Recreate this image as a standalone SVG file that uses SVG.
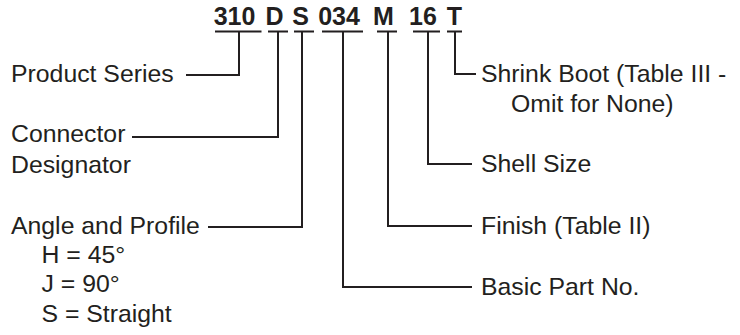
<svg xmlns="http://www.w3.org/2000/svg" width="740" height="335" viewBox="0 0 740 335">
  <style>
    text { font-family: "Liberation Sans", Arial, sans-serif; fill: #231f20; }
    .lbl { font-size: 24.8px; }
    .ttl { font-size: 25px; font-weight: bold; }
    .ln { fill: none; stroke: #231f20; stroke-width: 2; stroke-linecap: butt; stroke-linejoin: miter; }
  </style>
  <rect width="740" height="335" fill="#ffffff"/>

  <g id="title">
    <text class="ttl" y="25" text-anchor="middle">
      <tspan x="238">310</tspan>
      <tspan x="278">D</tspan>
      <tspan x="304">S</tspan>
      <tspan x="342.5">034</tspan>
      <tspan x="387">M</tspan>
      <tspan x="426.5">16</tspan>
      <tspan x="454.5">T</tspan>
    </text>
  </g>

  <g id="connectors">
    <path class="ln" d="M215 31.5H261.5 M268 31.5H288 M294 31.5H314 M322 31.5H363 M377 31.5H397 M413 31.5H440 M447 31.5H462"/>
    <path class="ln" d="M239 31.5V75H186"/>
    <path class="ln" d="M278 31.5V137H132"/>
    <path class="ln" d="M302 31.5V227H208"/>
    <path class="ln" d="M343 31.5V287H472"/>
    <path class="ln" d="M388 31.5V226H472"/>
    <path class="ln" d="M428 31.5V164H472"/>
    <path class="ln" d="M455 31.5V74H476"/>
  </g>

  <g id="product-series">
    <text class="lbl" x="11" y="82">Product Series</text>
  </g>
  <g id="connector-designator">
    <text class="lbl" x="11" y="142">Connector</text>
    <text class="lbl" x="11" y="172.5">Designator</text>
  </g>
  <g id="angle-profile">
    <text class="lbl" x="11" y="233.5">Angle and Profile</text>
    <text class="lbl" x="41.5" y="263">H = 45°</text>
    <text class="lbl" x="41.5" y="292">J = 90°</text>
    <text class="lbl" x="41.5" y="321.5">S = Straight</text>
  </g>
  <g id="shrink-boot">
    <text class="lbl" x="481" y="82">Shrink Boot (Table III -</text>
    <text class="lbl" x="511" y="112">Omit for None)</text>
  </g>
  <g id="shell-size">
    <text class="lbl" x="481" y="172">Shell Size</text>
  </g>
  <g id="finish">
    <text class="lbl" x="481" y="233.5">Finish (Table II)</text>
  </g>
  <g id="basic-part">
    <text class="lbl" x="481" y="295">Basic Part No.</text>
  </g>
</svg>
